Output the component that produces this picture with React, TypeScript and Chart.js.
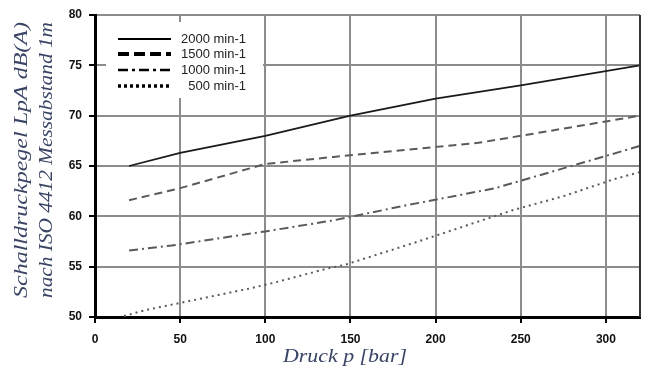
import React, { useEffect, useRef } from "react";
import { Chart, registerables } from "chart.js";

Chart.register(...registerables);

const xTicks = [0, 50, 100, 150, 200, 250, 300];
const yTicks = [50, 55, 60, 65, 70, 75, 80];

const seriesLabels = ["2000 min-1", "1500 min-1", "1000 min-1", "500 min-1"];

const p2000 = [20, 50, 100, 150, 200, 250, 320];
const v2000 = [65, 66.3, 68, 70, 71.7, 73, 75];

const p1500 = [20, 50, 100, 140, 200, 225, 250, 320];
const v1500 = [61.6, 62.8, 65.2, 65.9, 66.9, 67.3, 68.0, 70.0];

const p1000 = [20, 45, 72, 100, 140, 180, 235, 300, 320];
const v1000 = [56.6, 57.1, 57.8, 58.5, 59.6, 61.0, 62.8, 66.0, 67.0];

const p500 = [17, 30, 50, 70, 90, 105, 136, 147, 188, 245, 275, 305, 320];
const v500 = [50.1, 50.7, 51.4, 52.1, 52.8, 53.4, 54.8, 55.2, 57.4, 60.6, 62.0, 63.7, 64.4];

const xTitle = "Druck p [bar]";
const yTitle = ["Schalldruckpegel LpA dB(A)", "nach ISO 4412 Messabstand 1m"];

const toPoints = (xs: number[], ys: number[]) => xs.map((x, i) => ({ x, y: ys[i] }));

const styles = [
  { color: "#1a1a1a", width: 1.8, dash: [] as number[], legendWidth: 2, legendDash: [] as number[] },
  { color: "#5a5a5a", width: 2, dash: [8, 5], legendWidth: 4, legendDash: [11, 5] },
  { color: "#5a5a5a", width: 2, dash: [9, 4, 2, 4], legendWidth: 2.5, legendDash: [10, 4, 3, 4] },
  { color: "#5a5a5a", width: 2, dash: [2, 4], legendWidth: 3.5, legendDash: [3, 3] },
];

const titleColor = "#3a4566";
const serif = "'Liberation Serif', 'Times New Roman', Times, serif";
const sans = "'Liberation Sans', Arial, sans-serif";

// fit text to a target length along its baseline
const fitText = (ctx: any, text: string, target: number) => {
  const w = ctx.measureText(text).width;
  ctx.scale(target / w, 1);
  ctx.fillText(text, 0, 0);
};

const decorPlugin = {
  id: "decor",
  afterDraw(chart: any) {
    const { ctx, chartArea } = chart;
    ctx.save();
    // right border
    ctx.strokeStyle = "#333";
    ctx.lineWidth = 2;
    ctx.beginPath();
    ctx.moveTo(chartArea.right, chartArea.top);
    ctx.lineTo(chartArea.right, chartArea.bottom);
    ctx.stroke();

    // legend
    const bx = chartArea.left + 11;
    const by = chartArea.top + 7;
    ctx.fillStyle = "#fff";
    ctx.fillRect(bx, by, 157, 76);
    const rowsY = [39, 54, 70, 86];
    ctx.font = "13px " + sans;
    ctx.textBaseline = "middle";
    ctx.textAlign = "right";
    seriesLabels.forEach((lab, i) => {
      const st = styles[i];
      const y = rowsY[i];
      ctx.strokeStyle = "#000";
      ctx.lineWidth = st.legendWidth;
      ctx.setLineDash(st.legendDash);
      ctx.beginPath();
      ctx.moveTo(118, y);
      ctx.lineTo(171, y);
      ctx.stroke();
      ctx.setLineDash([]);
      ctx.fillStyle = "#222";
      ctx.fillText(lab, 246, y);
    });

    // titles
    ctx.fillStyle = titleColor;
    ctx.font = "italic 19px " + serif;
    ctx.textAlign = "center";
    ctx.textBaseline = "alphabetic";
    ctx.save();
    ctx.translate(345, 362);
    fitText(ctx, xTitle, 124);
    ctx.restore();

    ctx.font = "italic 19px " + serif;
    ctx.textBaseline = "middle";
    const xs = [22, 47];
    yTitle.forEach((t, i) => {
      ctx.save();
      ctx.translate(xs[i], 160);
      ctx.rotate(-Math.PI / 2);
      fitText(ctx, t, 276);
      ctx.restore();
    });
    ctx.restore();
  },
};

export default function App() {
  const ref = useRef<HTMLCanvasElement>(null);

  useEffect(() => {
    let chart: any = null;
    let cancelled = false;
    const build = () => {
      if (cancelled || !ref.current) return;
      const tickFont = { family: sans, size: 12, weight: "bold" as const };
      const datasets = [
        toPoints(p2000, v2000),
        toPoints(p1500, v1500),
        toPoints(p1000, v1000),
        toPoints(p500, v500),
      ].map((data, i) => ({
        label: seriesLabels[i],
        data,
        borderColor: styles[i].color,
        borderWidth: styles[i].width,
        borderDash: styles[i].dash,
        pointRadius: 0,
        fill: false,
        tension: 0,
      }));

      chart = new Chart(ref.current, {
        type: "line",
        data: { datasets },
        options: {
          responsive: false,
          animation: false,
          devicePixelRatio: 1,
          layout: { padding: { top: 15, right: 5, left: 0, bottom: 0 } },
          plugins: { legend: { display: false }, tooltip: { enabled: false } },
          scales: {
            x: {
              type: "linear",
              min: 0,
              max: 320,
              afterBuildTicks: (s: any) => {
                s.ticks = xTicks.map((v) => ({ value: v }));
              },
              afterFit: (s: any) => {
                s.height = 53;
              },
              grid: { color: "#8c8c8c", lineWidth: 2, tickLength: 6, tickColor: "#000", tickWidth: 2 },
              border: { display: true, color: "#000", width: 3 },
              ticks: { font: tickFont, color: "#111", padding: 9, maxRotation: 0 },
            },
            y: {
              type: "linear",
              min: 50,
              max: 80,
              afterBuildTicks: (s: any) => {
                s.ticks = yTicks.map((v) => ({ value: v }));
              },
              afterFit: (s: any) => {
                s.width = 95;
              },
              grid: { color: "#8c8c8c", lineWidth: 2, tickLength: 6, tickColor: "#000", tickWidth: 2 },
              border: { display: true, color: "#000", width: 3 },
              ticks: { font: tickFont, color: "#111", padding: 7 },
            },
          },
        },
        plugins: [decorPlugin],
      } as any);
    };
    const fonts: any = (document as any).fonts;
    const loads = fonts && fonts.load
      ? Promise.all([
          fonts.load("italic 19px 'Liberation Serif'", xTitle),
          fonts.load("13px 'Liberation Sans'", "2000 min-1"),
          fonts.load("bold 12px 'Liberation Sans'", "0123"),
        ]).then(() => fonts.ready)
      : Promise.resolve();
    loads.catch(() => null).then(() => setTimeout(build, 50));
    return () => {
      cancelled = true;
      if (chart) chart.destroy();
    };
  }, []);

  return (
    <div style={{ position: "absolute", left: 0, top: 0, width: 645, height: 370, background: "#fff" }}>
      <span
        style={{
          position: "absolute",
          left: 0,
          top: 0,
          opacity: 0,
          fontFamily: "'Liberation Serif'",
          fontStyle: "italic",
          fontSize: 19,
          pointerEvents: "none",
        }}
      >
        {xTitle}
      </span>
      <canvas ref={ref} width={645} height={370} style={{ display: "block", position: "relative" }} />
    </div>
  );
}
